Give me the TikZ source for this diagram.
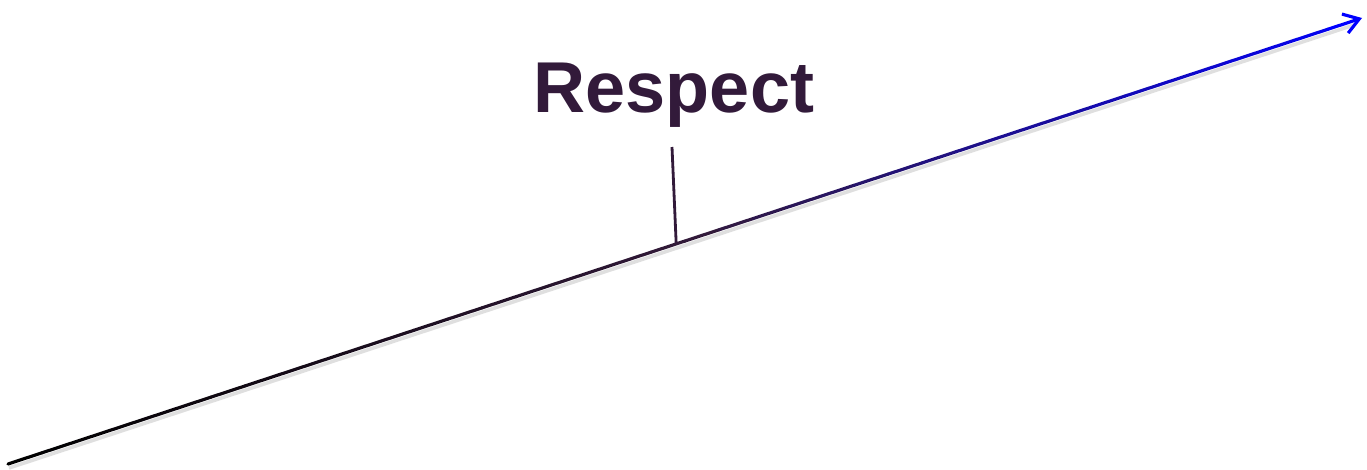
\documentclass[tikz,border=0pt]{standalone}
\usepackage{fontspec}
\setmainfont{Liberation Sans}
\usepackage{xcolor}
\usetikzlibrary{arrows.meta,calc}
\definecolor{plum}{HTML}{321A3A}

\begin{document}
\begin{tikzpicture}[
  x=0.02cm, y=-0.02cm,
  label/.style={font=\fontsize{41}{49}\selectfont\bfseries, text=plum, inner sep=0pt, anchor=base},
  axis/.style={line width=1.8pt, line cap=round},
  shadow/.style={line width=2pt, draw=gray!25},
  tick/.style={line width=1.6pt, draw=plum},
]
\useasboundingbox (0,0) rectangle (1367,470);

\coordinate (start) at (8,464);
\coordinate (end) at (1362,18);
\coordinate (mark) at ($(start)!0.4935!(end)$);
\coordinate (marktop) at (672,147);

% soft shadow under the axis
\draw[shadow] ($(start)+(1,4)$) -- ($(end)+(-8,7)$);

% axis, black to plum to blue
\foreach \i [evaluate=\i as \a using \i/40, evaluate=\i as \b using (\i+1)/40, evaluate=\i as \p using \i*5] in {0,...,19}
  \draw[axis, draw=plum!\p!black] ($(start)!\a!(end)$) -- ($(start)!\b!(end)$);
\foreach \i [evaluate=\i as \a using \i/40, evaluate=\i as \b using (\i+1)/40, evaluate=\i as \p using (\i-20)*5] in {20,...,38}
  \draw[axis, draw=blue!\p!plum] ($(start)!\a!(end)$) -- ($(start)!\b!(end)$);
\draw[axis, draw=blue, -{Straight Barb[length=3mm, width=4mm]}] ($(start)!0.975!(end)$) -- (end);

\draw[tick] (marktop) -- (mark);
\node[label] (respect) at (674,112) {Respect};

\end{tikzpicture}
\end{document}
